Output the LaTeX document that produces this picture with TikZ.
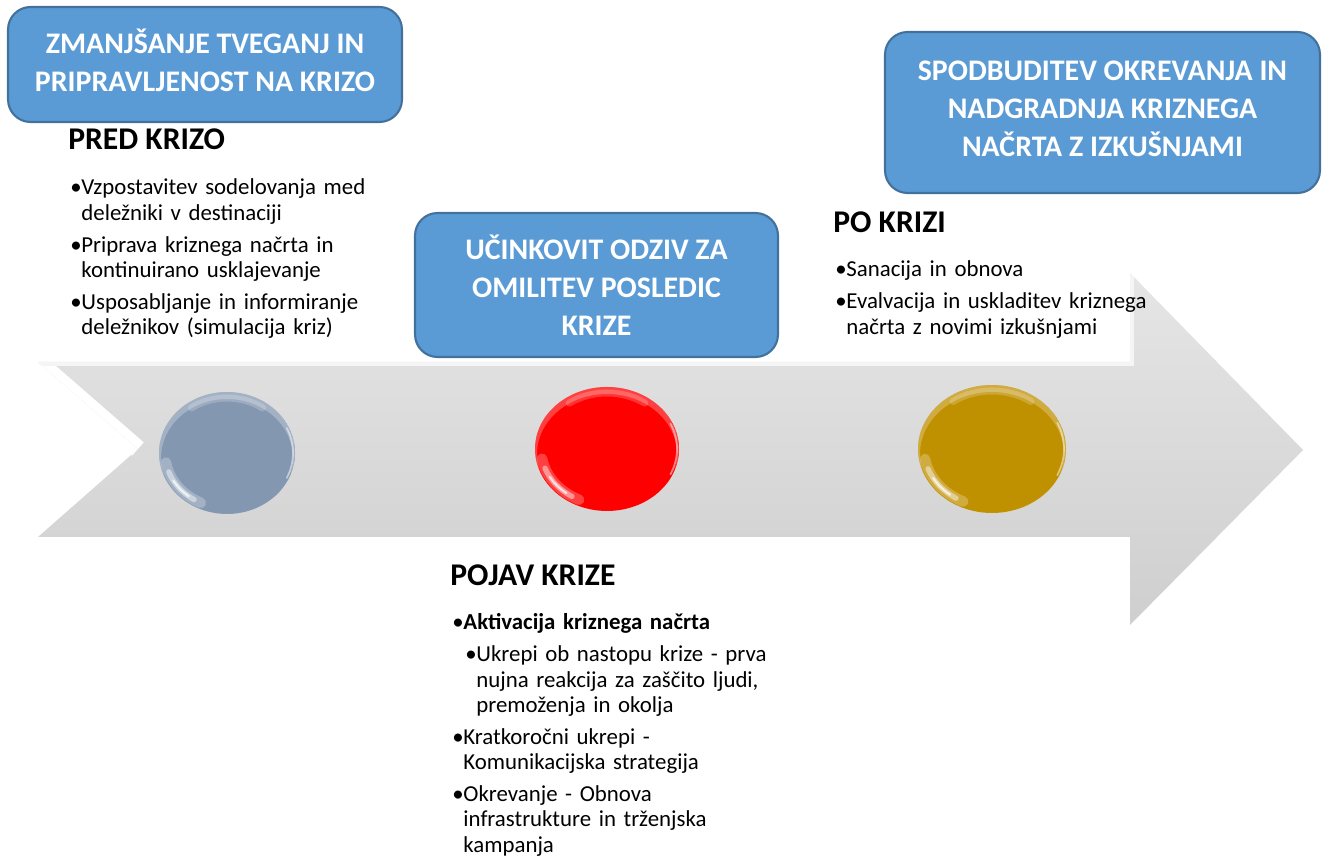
\documentclass[tikz,border=0pt]{standalone}
\usepackage{fontspec}
\setmainfont{Carlito}
\usetikzlibrary{positioning,shapes.geometric}

\definecolor{boxblue}{HTML}{5B9BD5}
\definecolor{boxline}{HTML}{41719C}
\definecolor{ballgray}{HTML}{8497B0}
\definecolor{ballred}{HTML}{FF0000}
\definecolor{ballgold}{HTML}{BF9000}

\newcommand{\bul}[2][0pt]{\par\parskip=3.5pt\leftskip=#1\relax\hangindent=6.3pt\hangafter=1\noindent\makebox[6.3pt][l]{\textbullet}#2\par}

\begin{document}
\begin{tikzpicture}[x=0.02cm, y=-0.02cm,
    phase/.style = {draw=boxline, line width=1.2pt, fill=boxblue, rounded corners=0.45cm,
                    text=white, align=center, font=\fontsize{17}{21.5}\selectfont\bfseries},
    title/.style = {anchor=base west, inner sep=0pt, font=\fontsize{18}{20}\selectfont\bfseries},
    notes/.style = {anchor=north west, inner sep=0pt, text width=9cm,
                    font=\fontsize{13}{14.5}\selectfont},
    ball/.style  = {ellipse, inner sep=0pt},
    gloss/.style = {white, line cap=round}]
    \useasboundingbox (0,0) rectangle (1333,857);

    % arrow
    \path[top color=black!10, bottom color=black!19]
        (38,362) -- (1130,362) -- (1130,273) -- (1303,450) -- (1130,625) -- (1130,537)
        -- (38,537) -- (138,449) -- cycle;
    \begin{scope}
        \clip (38,362) -- (1130,362) -- (1130,273) -- (1303,450) -- (1130,625) -- (1130,537)
            -- (38,537) -- (138,449) -- cycle;
        \draw[white, line width=10pt] (38,362) -- (138,449);
        \draw[black!4, line width=5pt] (38,362) -- (1130,362) -- (1130,273);
    \end{scope}

    \foreach \n/\c/\x/\y/\rx/\ry in {pred/ballgray/227/453/68/61,
                                    pojav/ballred/607/449/72/62,
                                    po/ballgold/992/449/74/64} {
        \pgfmathsetmacro\ax{\rx-6}
        \pgfmathsetmacro\ay{\ry-6}
        \pgfmathsetmacro\bx{\rx-2}
        \pgfmathsetmacro\by{\ry-2}
        \node[ball, fill=\c, minimum width={2*\rx*0.02cm}, minimum height={2*\ry*0.02cm}] (\n) at (\x,\y) {};
        \begin{scope}
            \clip (\x,\y) ellipse [x radius=\rx, y radius=\ry];
            \fill[white, opacity=0.25, even odd rule] (\x,\y) ellipse [x radius=\rx, y radius=\ry]
                (\x,\y+5) ellipse [x radius=\rx-2, y radius=\ry-2];
            \draw[gloss, opacity=0.2, line width=4pt] (\x,\y) ++(-125:{\ax} and {\ay})
                arc[start angle=-125, end angle=-55, x radius=\ax, y radius=\ay];
            \draw[gloss, opacity=0.25, line width=6pt] (\x,\y) ++(115:{\ax} and {\ay})
                arc[start angle=115, end angle=170, x radius=\ax, y radius=\ay];
            \draw[gloss, opacity=0.45, line width=3pt] (\x,\y) ++(122:{\ax} and {\ay})
                arc[start angle=122, end angle=160, x radius=\ax, y radius=\ay];
            \draw[gloss, opacity=0.7, line width=1.2pt] (\x,\y) ++(128:{\ax} and {\ay})
                arc[start angle=128, end angle=150, x radius=\ax, y radius=\ay];
            \draw[gloss, opacity=0.5, line width=1pt] (\x,\y) ++(-25:{\bx} and {\by})
                arc[start angle=-25, end angle=25, x radius=\bx, y radius=\by];
        \end{scope}
    }

    \node[phase, minimum width=7.88cm, minimum height=2.3cm, text depth=4.5pt] (zmanj) at (205,64.5)
        {ZMANJŠANJE TVEGANJ IN\\PRIPRAVLJENOST NA KRIZO};
    \node[phase, minimum width=7.26cm, minimum height=2.88cm] (odziv) at (596.5,285)
        {UČINKOVIT ODZIV ZA\\OMILITEV POSLEDIC\\KRIZE};
    \node[phase, minimum width=8.7cm, minimum height=3.22cm, text depth=4.5pt] (spodb) at (1102.5,112.5)
        {SPODBUDITEV OKREVANJA IN\\NADGRADNJA KRIZNEGA\\NAČRTA Z IZKUŠNJAMI};

    \node[title] (predt) at (68,150) {PRED KRIZO};
    \node[notes] (predn) at (70,163) {%
        \bul{Vzpostavitev sodelovanja med\newline deležniki v destinaciji}
        \bul{Priprava kriznega načrta in\newline kontinuirano usklajevanje}
        \bul{Usposabljanje in informiranje\newline deležnikov (simulacija kriz)}};

    \node[title] (pojavt) at (450,586) {POJAV KRIZE};
    \node[notes] (pojavn) at (452,598) {%
        \bul{\textbf{Aktivacija kriznega načrta}}
        \bul[7.4pt]{Ukrepi ob nastopu krize - prva\newline nujna reakcija za zaščito ljudi,\newline premoženja in okolja}
        \bul{Kratkoročni ukrepi -\newline Komunikacijska strategija}
        \bul{Okrevanje - Obnova\newline infrastrukture in trženjska\newline kampanja}};

    \node[title] (pot) at (833,233) {PO KRIZI};
    \node[notes] (pon) at (835,245) {%
        \bul{Sanacija in obnova}
        \bul{Evalvacija in uskladitev kriznega\newline načrta z novimi izkušnjami}};
\end{tikzpicture}
\end{document}
